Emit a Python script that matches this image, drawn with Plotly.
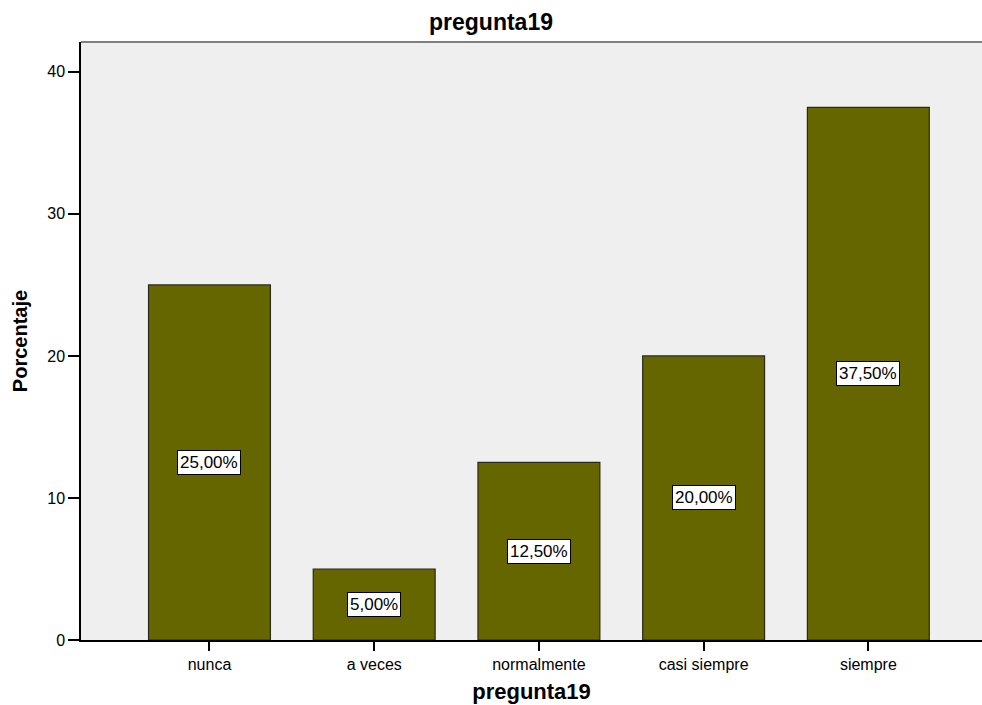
import plotly.graph_objects as go

categorias = ["nunca", "a veces", "normalmente", "casi siempre", "siempre"]
porcentajes = [25.0, 5.0, 12.5, 20.0, 37.5]
etiquetas = ["25,00%", "5,00%", "12,50%", "20,00%", "37,50%"]

fuente = 'Liberation Sans, Arial, sans-serif'

fig = go.Figure()

fig.add_trace(go.Bar(
    x=categorias,
    y=porcentajes,
    width=0.74,
    marker={'color': '#666600', 'line': {'width': 1.2, 'color': '#2a2a1a'}},
    hoverinfo="skip",
))

# Etiquetas en recuadro blanco a media altura de cada barra
for cat, val, txt in zip(categorias, porcentajes, etiquetas):
    fig.add_annotation(
        x=cat, y=val / 2, text=txt, showarrow=False,
        font={'size': 17, 'color': 'black', 'family': fuente},
        bgcolor='white', bordercolor='black', borderwidth=1, borderpad=2,
    )

# Borde superior gris del área de gráfico
fig.add_shape(type="line", xref="paper", yref="paper", x0=0, x1=1, y0=1, y1=1,
              line={'color': '#808080', 'width': 2})

fig.update_xaxes(
    range=[-0.78, 4.69],
    showline=True, linecolor='black', linewidth=1.5,
    ticks='outside', ticklen=9, tickcolor='black', tickwidth=1.5,
    tickfont={'size': 16, 'color': 'black'},
    title={'text': '<b>pregunta19</b>', 'font': {'size': 22, 'color': 'black'}, 'standoff': 12},
)
fig.update_yaxes(
    range=[0, 42.1],
    tickvals=[0, 10, 20, 30, 40],
    showgrid=False, zeroline=False,
    showline=True, linecolor='black', linewidth=1.5,
    ticks='outside', ticklen=11, tickcolor='black', tickwidth=1.5,
    tickfont={'size': 16, 'color': 'black'},
    title={'text': '<b>Porcentaje</b>', 'font': {'size': 20, 'color': 'black'}, 'standoff': 14},
)

fig.update_layout(
    title={'text': '<b>pregunta19</b>', 'x': 0.5, 'xanchor': 'center',
           'y': 0.969, 'yanchor': 'middle',
           'font': {'size': 23, 'color': 'black'}},
    font={'family': fuente},
    plot_bgcolor='#EFEFEF',
    paper_bgcolor='white',
    width=982, height=705,
    margin={'l': 81, 'r': 0, 't': 42, 'b': 65},
    showlegend=False,
    bargap=0.26,
)

fig.write_html("out.html", config={'displayModeBar': False},
               post_script="document.body.style.margin='0';")
